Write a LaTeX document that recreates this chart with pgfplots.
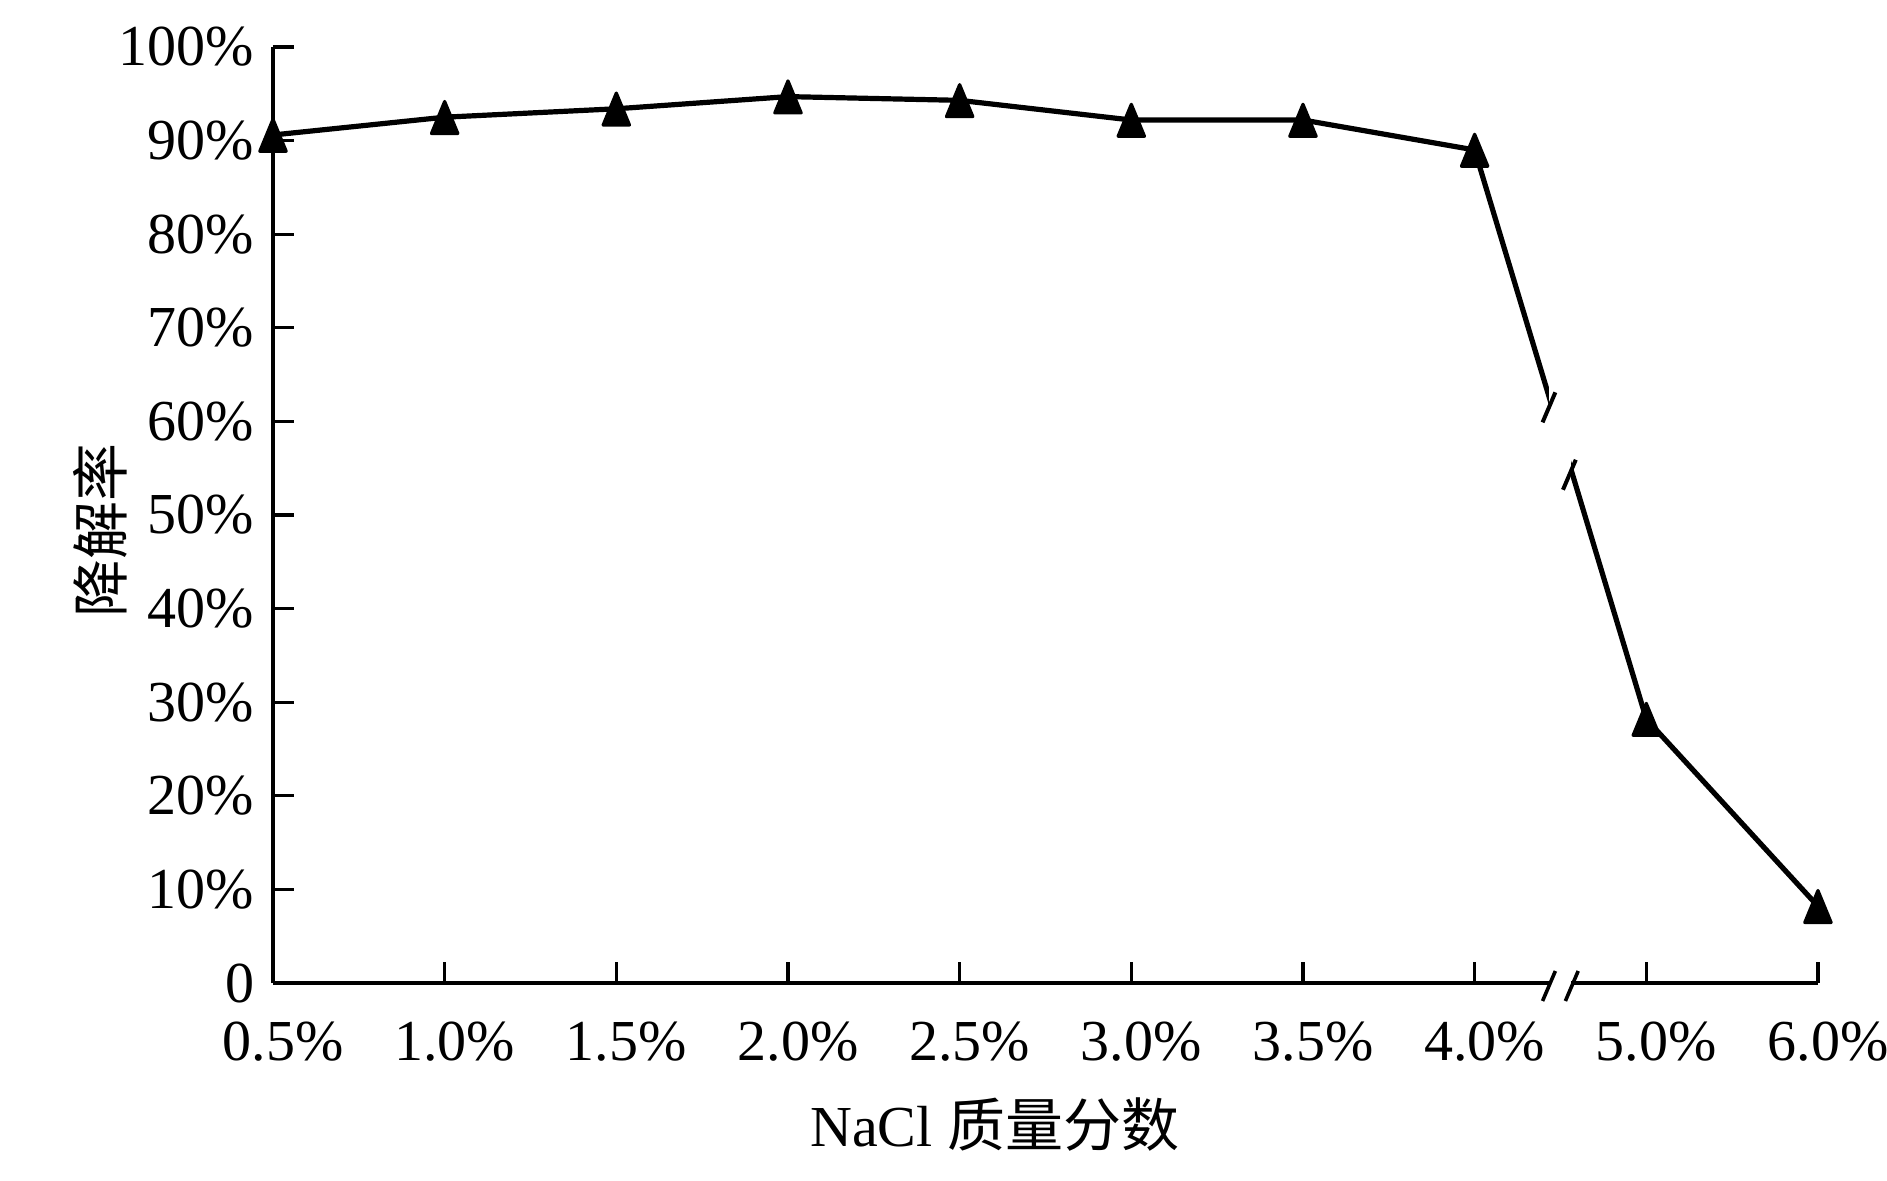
\documentclass[border=0pt]{standalone}
\usepackage{fontspec}
\setmainfont{Liberation Serif}
\newfontfamily\cjk{Noto Sans CJK SC}
\usepackage{pgfplots}
\pgfplotsset{compat=1.18}
\begin{document}
\begin{tikzpicture}
\useasboundingbox (-68.25pt,-49.25pt) rectangle (403.5pt,245.75pt);
\begin{axis}[
  at={(0pt,0pt)}, anchor=south west,
  scale only axis, width=386.25pt, height=234pt,
  xmin=0, xmax=9, ymin=0, ymax=100,
  axis lines=left, axis line style={-, line width=0.85pt},
  xtick={0,...,9},
  xticklabels={0.5\%,1.0\%,1.5\%,2.0\%,2.5\%,3.0\%,3.5\%,4.0\%,5.0\%,6.0\%},
  ytick={0,10,...,100},
  yticklabels={0,10\%,20\%,30\%,40\%,50\%,60\%,70\%,80\%,90\%,100\%},
  tick align=inside, major tick length=5.2pt,
  tick style={line width=0.8pt, black},
  tick label style={font=\fontsize{14.5}{17}\selectfont},
  xticklabel style={anchor=base, yshift=-19.25pt, xshift=2.5pt},
  yticklabel style={anchor=east, inner sep=0pt, xshift=-4.5pt},
  clip=false,
]
\addplot[black, line width=1.3pt, mark=triangle*,
  mark size=3.8pt,
  mark options={solid, fill=black, line width=0.8pt, line join=round, yshift=-1.4pt, yscale=1.4}]
  coordinates {(0,90.6) (1,92.5) (2,93.4) (3,94.7) (4,94.3) (5,92.2) (6,92.2) (7,89.0) (8,28.2) (9,8.2)};
\fill[white] (axis cs:7.436,-1.5) rectangle (axis cs:7.562,70);
\draw[line width=0.9pt] (axis cs:7.433,0) ++(-1.6pt,-4.5pt) -- ++(3.2pt,7.5pt);
\draw[line width=0.9pt] (axis cs:7.566,0) ++(-1.6pt,-4.5pt) -- ++(3.2pt,7.5pt);
\draw[line width=1pt] (axis cs:7.433,61.5) ++(-1.6pt,-3.75pt) -- ++(3.2pt,7.5pt);
\draw[line width=1pt] (axis cs:7.552,54.3) ++(-1.6pt,-3.75pt) -- ++(3.2pt,7.5pt);
\end{axis}
\node[rotate=90, font=\cjk\fontsize{14.5}{17}\selectfont] at (-43.25pt,113.25pt) {降解率};
\node[font=\fontsize{14.5}{17}\selectfont] at (180.4pt,-35.5pt) {NaCl {\cjk 质量分数}};
\end{tikzpicture}
\end{document}
